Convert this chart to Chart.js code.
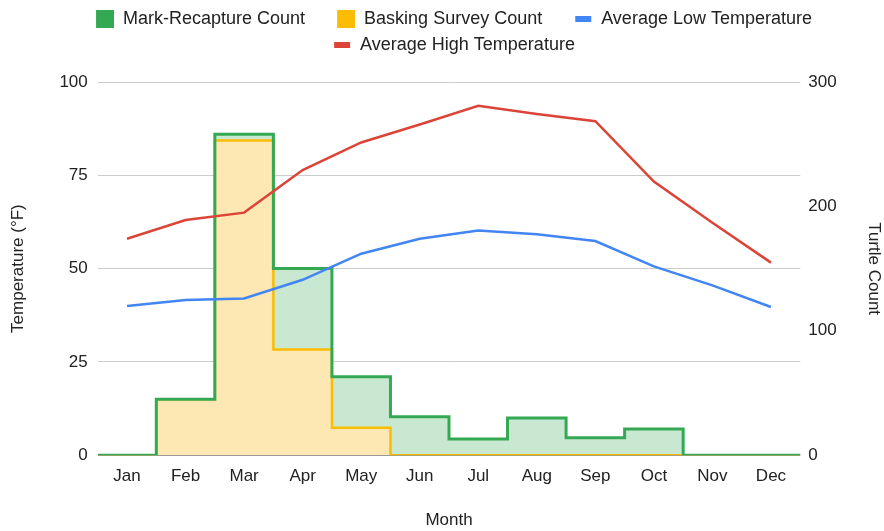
<!DOCTYPE html>
<html>
<head>
<meta charset="utf-8">
<script src="https://cdn.jsdelivr.net/npm/chart.js@4/dist/chart.umd.min.js"></script>
<style>
  html, body { margin: 0; padding: 0; background: #fff; }
  #wrap { width: 884px; height: 531px; }
</style>
</head>
<body>
<div id="wrap"><canvas id="chart"></canvas></div>
<script>
// data
const months = ['Jan', 'Feb', 'Mar', 'Apr', 'May', 'Jun', 'Jul', 'Aug', 'Sep', 'Oct', 'Nov', 'Dec']
const markRecapture = [0, 45, 258, 150, 63, 31, 13, 30, 14, 21, 0, 0]
const baskingSurvey = [0, 45, 253, 85, 22, 0, 0, 0, 0, 0, 0, 0]
const avgLow = [40, 41.6, 42, 47, 54, 58, 60.2, 59.2, 57.4, 50.6, 45.5, 39.7]
const avgHigh = [58, 63, 65, 76.4, 83.8, 88.6, 93.6, 91.4, 89.5, 73.3, 62.3, 51.6]
const tempTicks = [0, 25, 50, 75, 100]
const countTicks = [0, 100, 200, 300]

const GREEN = '#34a853'
const YELLOW = '#fbbc04'
const BLUE = '#4285f4'
const RED = '#db4437'
const TEXT = '#222'
const FONT = 'Arial, "Liberation Sans", sans-serif'

// stepped areas: each month covers its whole band, from i-0.5 to i+0.5
function stepPoints(values) {
    let pts = values.map((v, i) => ({ x: i - 0.5, y: v }))
    pts.push({ x: values.length - 0.5, y: values[values.length - 1] })
    return pts
}
function linePoints(values) {
    return values.map((v, i) => ({ x: i, y: v }))
}

// legend swatches like google's: square for areas, short bar for lines.
// the blank strip on the left gives the gap between legend entries
const SW = 42
function swatch(color, kind) {
    let c = document.createElement('canvas')
    c.width = SW
    c.height = 18
    let g = c.getContext('2d')
    g.fillStyle = color
    if (kind == 'box') g.fillRect(SW - 18, 0, 18, 18)
    else g.fillRect(SW - 17, 6, 16, 6)
    return c
}

// a bit more room between legend and plot
const legendGap = {
    id: 'legendGap',
    beforeInit(chart) {
        let fit = chart.legend.fit
        chart.legend.fit = function() {
            fit.bind(chart.legend)()
            this.height += 18
        }
    }
}

let ctx = document.querySelector('#chart').getContext('2d')

let chart = new Chart(ctx, {
    type: 'line',
    data: {
        datasets: [
            {
                label: 'Mark-Recapture Count',
                data: stepPoints(markRecapture),
                yAxisID: 'y1',
                stepped: 'before',
                borderColor: GREEN,
                backgroundColor: '#c9e8d1',
                borderWidth: 3,
                // green only fills the part above the basking area
                fill: { target: 1, above: '#c9e8d1', below: 'rgba(0,0,0,0)' },
                pointRadius: 0,
                pointStyle: swatch(GREEN, 'box'),
                order: 2
            },
            {
                label: 'Basking Survey Count',
                data: stepPoints(baskingSurvey),
                yAxisID: 'y1',
                stepped: 'before',
                borderColor: YELLOW,
                backgroundColor: '#fde8b4',
                borderWidth: 2.5,
                fill: 'origin',
                pointRadius: 0,
                pointStyle: swatch(YELLOW, 'box'),
                order: 3
            },
            {
                label: 'Average Low Temperature',
                data: linePoints(avgLow),
                yAxisID: 'y',
                borderColor: BLUE,
                borderWidth: 2.5,
                fill: false,
                pointRadius: 0,
                pointStyle: swatch(BLUE, 'bar'),
                order: 1
            },
            {
                label: 'Average High Temperature',
                data: linePoints(avgHigh),
                yAxisID: 'y',
                borderColor: RED,
                borderWidth: 2.5,
                fill: false,
                pointRadius: 0,
                pointStyle: swatch(RED, 'bar'),
                order: 0
            }
        ]
    },
    options: {
        responsive: true,
        maintainAspectRatio: false,
        animation: false,
        layout: { padding: { top: 2, left: 0, right: 0, bottom: 0 } },
        plugins: {
            filler: { drawTime: 'beforeDatasetsDraw' },
            tooltip: { enabled: false },
            legend: {
                position: 'top',
                labels: {
                    usePointStyle: true,
                    pointStyleWidth: SW,
                    color: TEXT,
                    font: { family: FONT, size: 18 },
                    padding: 8,
                    sort: (a, b) => a.datasetIndex - b.datasetIndex
                }
            }
        },
        scales: {
            x: {
                type: 'linear',
                min: -0.5,
                max: months.length - 0.5,
                afterBuildTicks: axis => {
                    axis.ticks = months.map((m, i) => ({ value: i }))
                },
                ticks: {
                    color: TEXT,
                    font: { family: FONT, size: 17 },
                    padding: 11,
                    maxRotation: 0,
                    autoSkip: false,
                    callback: v => months[v]
                },
                grid: { display: false, drawTicks: false },
                border: { display: false },
                title: {
                    display: true,
                    text: 'Month',
                    color: TEXT,
                    font: { family: FONT, size: 17 },
                    padding: { top: 13, bottom: 0 }
                }
            },
            y: {
                position: 'left',
                min: 0,
                max: 100,
                afterBuildTicks: axis => {
                    axis.ticks = tempTicks.map(v => ({ value: v }))
                },
                ticks: {
                    color: TEXT,
                    font: { family: FONT, size: 17 },
                    padding: 10
                },
                grid: {
                    drawTicks: false,
                    color: c => c.tick.value == 0 ? '#333' : '#ccc',
                    lineWidth: c => c.tick.value == 0 ? 1.5 : 1
                },
                border: { display: false },
                title: {
                    display: true,
                    text: 'Temperature (°F)',
                    color: TEXT,
                    font: { family: FONT, size: 17 },
                    padding: { top: 8, bottom: 21 }
                }
            },
            y1: {
                position: 'right',
                min: 0,
                max: 300,
                afterBuildTicks: axis => {
                    axis.ticks = countTicks.map(v => ({ value: v }))
                },
                ticks: {
                    color: TEXT,
                    font: { family: FONT, size: 17 },
                    padding: 8
                },
                grid: { display: false, drawTicks: false },
                border: { display: false },
                title: {
                    display: true,
                    text: 'Turtle Count',
                    color: TEXT,
                    font: { family: FONT, size: 17 },
                    padding: { top: 0, bottom: 19 }
                }
            }
        }
    },
    plugins: [legendGap]
})
</script>
</body>
</html>
